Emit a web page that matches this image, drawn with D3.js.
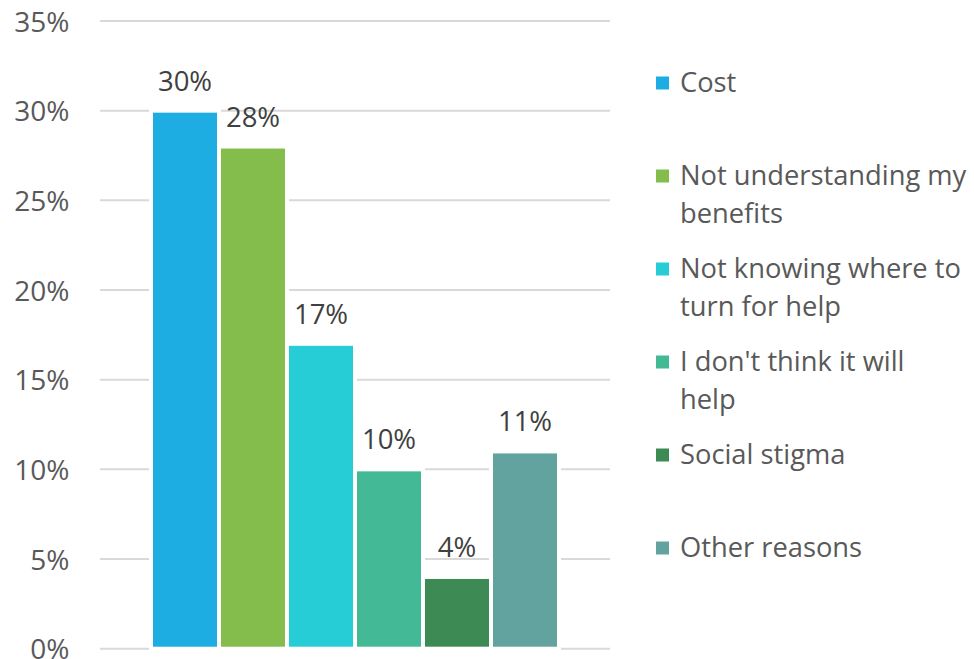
<!DOCTYPE html>
<html><head><meta charset="utf-8">
<script src="https://cdn.jsdelivr.net/npm/d3@7"></script>
<style>html,body{margin:0;padding:0;background:#fff;}svg{display:block;}</style>
</head><body>
<svg id="chart" width="974" height="659"></svg>
<script>
const categories = ["Cost", "Not understanding my benefits", "Not knowing where to turn for help", "I don't think it will help", "Social stigma", "Other reasons"];
const legendLines = [["Cost"], ["Not understanding my", "benefits"], ["Not knowing where to", "turn for help"], ["I don't think it will", "help"], ["Social stigma"], ["Other reasons"]];
const values = [0.30, 0.28, 0.17, 0.10, 0.04, 0.11];
const colors = ["#1EADE3", "#84BD4B", "#27CDD6", "#43BA95", "#3E8A55", "#62A39F"];
const yTicks = [0, 0.05, 0.10, 0.15, 0.20, 0.25, 0.30, 0.35];

const svg = d3.select("#chart");
const FONT = "'Open Sans', sans-serif";
const plot = {left: 100, right: 610, top: 21, bottom: 648.7};

const y = d3.scaleLinear().domain([0, 0.35]).range([plot.bottom, plot.top]);
const x = d3.scaleBand().domain(categories).range([plot.left, plot.right]).paddingInner(0).paddingOuter(0.75);

// gridlines
svg.append("g").selectAll("line").data(yTicks).join("line")
  .attr("x1", plot.left).attr("x2", plot.right)
  .attr("y1", d => y(d)).attr("y2", d => y(d))
  .attr("stroke", "#D9D9D9").attr("stroke-width", 2);

// y axis labels
const yAxis = d3.axisLeft(y).tickValues(yTicks).tickFormat(d3.format(".0%")).tickSize(0).tickPadding(0);
const ya = svg.append("g").attr("transform", "translate(69.5,0)").call(yAxis);
ya.select(".domain").remove();
ya.selectAll("text").attr("font-family", FONT).attr("font-size", 28).attr("fill", "#595959").attr("dy", "0.36em");

// bars
svg.append("g").selectAll("rect").data(categories).join("rect")
  .attr("x", d => x(d)).attr("width", x.bandwidth())
  .attr("y", (d, i) => y(values[i])).attr("height", (d, i) => y(0) - y(values[i]))
  .attr("fill", (d, i) => colors[i]).attr("stroke", "#fff").attr("stroke-width", 4);

// data labels
svg.append("g").selectAll("text").data(categories).join("text")
  .attr("x", d => x(d) + x.bandwidth() / 2)
  .attr("y", (d, i) => y(values[i]) - 20)
  .attr("text-anchor", "middle").attr("font-family", FONT).attr("font-size", 27.5).attr("fill", "#404040")
  .text((d, i) => d3.format(".0%")(values[i]));

// legend
const lg = svg.append("g");
legendLines.forEach((lines, i) => {
  const base = 92 + 93 * i;
  lg.append("rect").attr("x", 656).attr("y", base - 15.5).attr("width", 13).attr("height", 13).attr("fill", colors[i]);
  const t = lg.append("text").attr("font-family", FONT).attr("font-size", 27.3).attr("fill", "#595959");
  lines.forEach((ln, j) => t.append("tspan").attr("x", 680).attr("y", base + j * 37.5).text(ln));
});
</script>
</body></html>
